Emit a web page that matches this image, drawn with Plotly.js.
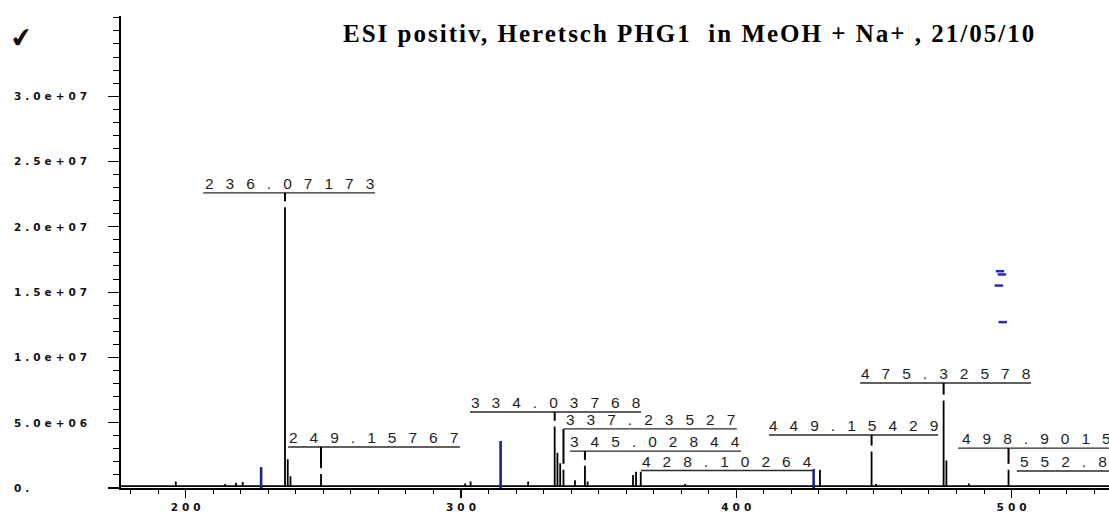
<!DOCTYPE html>
<html>
<head>
<meta charset="utf-8">
<script src="https://cdn.plot.ly/plotly-3.0.1.min.js"></script>
<style>
  html, body { margin: 0; padding: 0; background: #ffffff; }
  #spectrum { width: 1109px; height: 513px; }
</style>
</head>
<body>
<div id="spectrum"></div>
<script>
// ESI(+) mass spectrum, m/z vs. intensity (counts)
const peakMz = [
  196.4, 214.3, 218.3, 220.7, 227.4,
  236.07173, 237.07, 238.07, 249.15767, 262.0,
  301.5, 303.5, 314.4, 324.4,
  334.03768, 335.04, 336.04, 337.23527, 341.4, 345.02844, 346.0,
  362.5, 363.6, 365.3, 381.4,
  428.10264, 430.4, 449.15429, 450.8,
  475.32578, 476.33, 484.5, 498.9015
];
const peakIntensity = [
  0.5e6, 0.3e6, 0.4e6, 0.45e6, 1.6e6,
  21.5e6, 2.2e6, 0.9e6, 1.07e6, 0.2e6,
  0.35e6, 0.5e6, 3.6e6, 0.5e6,
  4.7e6, 2.7e6, 1.9e6, 1.4e6, 0.6e6, 1.7e6, 0.5e6,
  1.0e6, 1.25e6, 1.25e6, 0.3e6,
  1.45e6, 1.4e6, 2.8e6, 0.3e6,
  6.7e6, 2.1e6, 0.35e6, 1.4e6
];
const baselineIntensity = 0.15e6;

// annotated peak masses and their printed labels
const labelMz = [236.07173, 249.15767, 334.03768, 337.23527, 345.02844,
                 428.10264, 449.15429, 475.32578, 498.9015, 552.8];
const labelText = ['236.07173', '249.15767', '334.03768', '337.23527', '345.02844',
                   '428.10264', '449.15429', '475.32578', '498.9015', '552.8'];

// stray blue marks in the upper right
const strayMz = [495.8, 496.5, 495.4, 496.8];
const strayIntensity = [16.6e6, 16.35e6, 15.5e6, 12.7e6];

const yTickValues = [0, 5e6, 1e7, 1.5e7, 2e7, 2.5e7, 3e7];
const yTickLabels = ['0.', '5.0e+06', '1.0e+07', '1.5e+07', '2.0e+07', '2.5e+07', '3.0e+07'];
const xTickValues = [200, 300, 400, 500];
const xTickLabels = ['200', '300', '400', '500'];
const titleText = 'ESI positiv, Heretsch PHG1\u00a0 in MeOH + Na+ , 21/05/10';

// ---- presentation settings ----
const X_RANGE = [176.5, 535.4];
const Y_RANGE = [0, 36.14e6];
const BLUE_PEAKS = [227.4, 314.4, 428.10264];
// label bracket: [line start m/z, line end m/z, line height], null end = run to the axis end
const LABEL_BRACKETS = [
  [206.4, 268.8, 22.6e6],
  [237.2, 299.6, 3.14e6],
  [303.3, 365.4, 5.82e6],
  [337.4, 400.2, 4.52e6],
  [339.6, 401.7, 2.83e6],
  [365.4, 427.9, 1.34e6],
  [411.9, 473.3, 4.06e6],
  [445.0, 507.1, 8.04e6],
  [480.6, null, 3.06e6],
  [501.9, null, 1.30e6]
];

function spaced(str, px) {
  // letter-spaced text; the last glyph carries no trailing gap so centring stays true
  return '<span style="letter-spacing:' + px + 'px">' + str.slice(0, -1) + '</span>' + str.slice(-1);
}

// black stick spectrum running along the baseline
const blackX = [X_RANGE[0]], blackY = [baselineIntensity];
const blueX = [], blueY = [];
peakMz.forEach(function (m, i) {
  const h = peakIntensity[i];
  if (BLUE_PEAKS.indexOf(m) >= 0) {
    blueX.push(m, m, null);
    blueY.push(0, h, null);
  } else {
    blackX.push(m, m, m);
    blackY.push(baselineIntensity, h, baselineIntensity);
  }
});
blackX.push(X_RANGE[1]);
blackY.push(baselineIntensity);

const traces = [
  { type: 'scatter', mode: 'lines', x: blackX, y: blackY,
    line: { color: '#000000', width: 1.8 }, hoverinfo: 'skip', showlegend: false },
  { type: 'scatter', mode: 'lines', x: blueX, y: blueY,
    line: { color: '#1b238c', width: 2.6 }, hoverinfo: 'skip', showlegend: false },
  { type: 'scatter', mode: 'markers', x: strayMz, y: strayIntensity,
    marker: { symbol: 'line-ew', size: 6, line: { color: '#2a2ab8', width: 2.5 } },
    hoverinfo: 'skip', showlegend: false }
];

const shapes = [];
const annotations = [];

labelMz.forEach(function (m, i) {
  const br = LABEL_BRACKETS[i];
  const x0 = br[0];
  const clipped = br[1] === null;
  const x1 = clipped ? X_RANGE[1] : br[1];
  const level = br[2];
  shapes.push({ type: 'line', xref: 'x', yref: 'y', x0: x0, x1: x1, y0: level, y1: level,
    line: { color: '#2a2a2a', width: 1.3 } });
  const k = peakMz.indexOf(m);
  if (k >= 0) {
    const top = peakIntensity[k] + 0.45e6;
    if (level > top) {
      shapes.push({ type: 'line', xref: 'x', yref: 'y', x0: m, x1: m, y0: level, y1: top,
        line: { color: '#000000', width: 2 } });
    }
  }
  annotations.push({
    xref: 'x', yref: 'y',
    x: clipped ? x0 + 0.6 : (x0 + x1) / 2,
    xanchor: clipped ? 'left' : 'center',
    y: level, yanchor: 'bottom', yshift: -1,
    text: spaced(labelText[i], 12),
    showarrow: false,
    font: { family: 'Liberation Sans, Arial, sans-serif', size: 15.5, color: '#1e1e1e' }
  });
});

// intensity tick labels, left aligned in the margin
yTickValues.forEach(function (v, i) {
  annotations.push({
    xref: 'paper', yref: 'y', x: 0, xshift: -109, xanchor: 'left',
    y: v, yanchor: 'middle',
    text: spaced(yTickLabels[i], 4),
    showarrow: false,
    font: { family: 'DejaVu Sans, sans-serif', size: 10.5, color: '#111111', weight: 700 }
  });
});

// pen mark in the upper left corner
annotations.push({
  xref: 'paper', yref: 'paper', x: 0, xshift: -115, xanchor: 'left',
  y: 0.955, yanchor: 'middle', text: '\u2714', showarrow: false, textangle: -8,
  font: { family: 'DejaVu Sans, sans-serif', size: 27, color: '#111111' }
});

const layout = {
  width: 1109, height: 513,
  margin: { l: 121, r: 0, t: 16, b: 25, pad: 0 },
  paper_bgcolor: '#ffffff', plot_bgcolor: '#ffffff',
  showlegend: false,
  title: {
    text: '<span style="letter-spacing:2px">' + titleText + '</span>',
    xref: 'paper', yref: 'paper', x: (343 - 121) / 988, xanchor: 'left',
    y: 1 - (33 - 16) / 472, yanchor: 'middle',
    font: { family: 'Liberation Serif, Times New Roman, serif', size: 25, color: '#000000', weight: 700 }
  },
  xaxis: {
    range: X_RANGE, showgrid: false, zeroline: false,
    showline: true, linecolor: '#000000', linewidth: 2,
    ticks: 'outside', ticklen: 8, tickwidth: 1.5, tickcolor: '#000000',
    tickmode: 'array', tickvals: xTickValues,
    ticktext: xTickLabels.map(function (t) { return spaced(t, 4); }),
    tickfont: { family: 'DejaVu Sans, sans-serif', size: 10.5, color: '#111111', weight: 700 },
    minor: { dtick: 10, ticks: 'outside', ticklen: 4, tickwidth: 1, tickcolor: '#000000', showgrid: false }
  },
  yaxis: {
    range: Y_RANGE, showgrid: false, zeroline: false,
    showline: true, linecolor: '#000000', linewidth: 2,
    ticks: 'outside', ticklen: 11, tickwidth: 1.2, tickcolor: '#000000',
    tickmode: 'array', tickvals: yTickValues, showticklabels: false,
    minor: { dtick: 1e6, ticks: 'outside', ticklen: 6, tickwidth: 1, tickcolor: '#000000', showgrid: false }
  },
  shapes: shapes,
  annotations: annotations
};

Plotly.newPlot('spectrum', traces, layout, { staticPlot: true, displayModeBar: false });
</script>
</body>
</html>
